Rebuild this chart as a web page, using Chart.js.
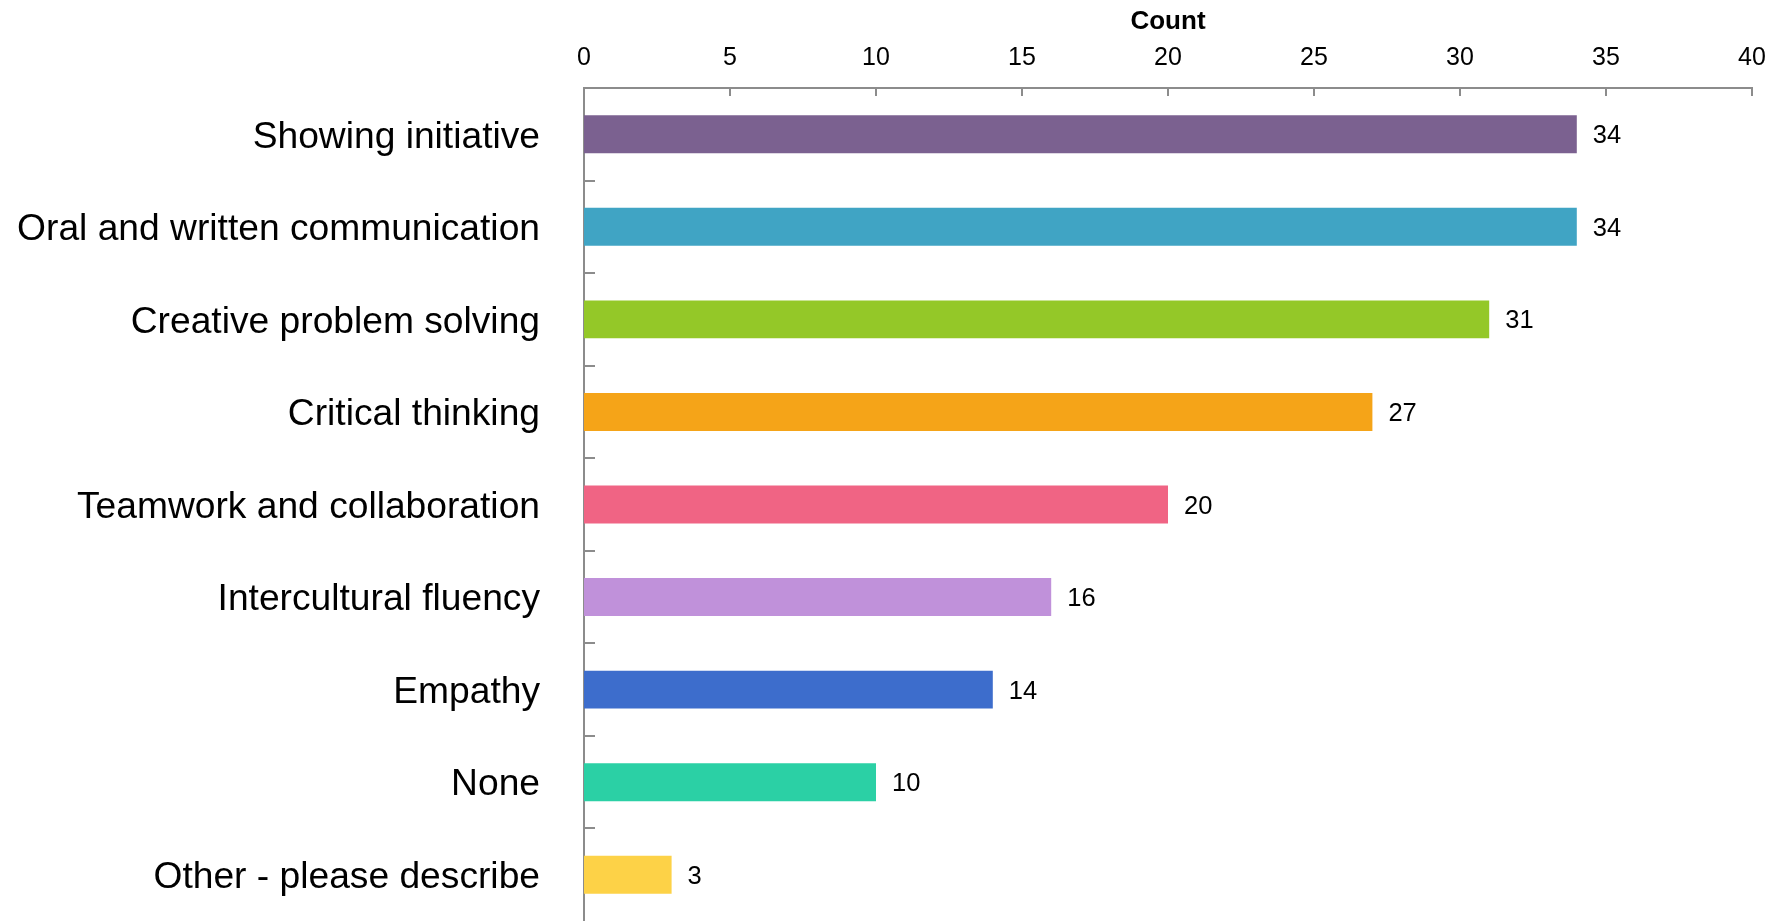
<!DOCTYPE html>
<html>
<head>
<meta charset="utf-8">
<script src="https://cdn.jsdelivr.net/npm/chart.js@4"></script>
<style>
  html, body { margin: 0; padding: 0; background: #fff; overflow: hidden; }
  canvas { display: block; }
</style>
</head>
<body>
<canvas id="chart" width="1772" height="921"></canvas>
<script>
// Skills bar chart

const categories = [
  'Showing initiative',
  'Oral and written communication',
  'Creative problem solving',
  'Critical thinking',
  'Teamwork and collaboration',
  'Intercultural fluency',
  'Empathy',
  'None',
  'Other - please describe',
];
const counts = [34, 34, 31, 27, 20, 16, 14, 10, 3];
const barColors = [
  '#7b6190', '#40a4c4', '#94c828', '#f5a418', '#f06484',
  '#c091da', '#3d6dcc', '#2bd0a5', '#fdd247',
];
const axisTicks = [0, 5, 10, 15, 20, 25, 30, 35, 40];

const FONT = 'Liberation Sans, Arial, sans-serif';
const AXIS_GREY = '#8c8c8c';

// keep the plot box fixed, whatever the labels would ask for
function noPadding(scale) {
  scale.paddingTop = 0;
  scale.paddingBottom = 0;
  scale.paddingLeft = 0;
  scale.paddingRight = 0;
}

// tick marks point into the plot, so draw them ourselves from the scales
const innerTicks = {
  id: 'innerTicks',
  afterDatasetsDraw(chart) {
    const { ctx, scales: { x, y }, chartArea } = chart;
    ctx.save();
    ctx.strokeStyle = AXIS_GREY;
    ctx.lineWidth = 2;
    ctx.beginPath();
    axisTicks.forEach((v) => {
      const px = Math.round(x.getPixelForValue(v));
      ctx.moveTo(px, chartArea.top);
      ctx.lineTo(px, chartArea.top + 8);
    });
    const band = y.getPixelForValue(1) - y.getPixelForValue(0);
    for (let i = 1; i < categories.length; i += 1) {
      const py = Math.round(y.getPixelForValue(i) - band / 2);
      ctx.moveTo(chartArea.left, py);
      ctx.lineTo(chartArea.left + 11, py);
    }
    ctx.stroke();

    // value labels at the end of each bar
    ctx.fillStyle = '#000';
    ctx.font = `25.5px ${FONT}`;
    ctx.textAlign = 'left';
    ctx.textBaseline = 'middle';
    chart.getDatasetMeta(0).data.forEach((bar, i) => {
      ctx.fillText(String(counts[i]), bar.x + 16, bar.y + 2);
    });
    ctx.restore();
  },
};

const ctx = document.getElementById('chart').getContext('2d');

// eslint-disable-next-line no-unused-vars
const chart = new Chart(ctx, {
  type: 'bar',
  data: {
    labels: categories,
    datasets: [{
      data: counts,
      backgroundColor: barColors,
      borderWidth: 0,
      categoryPercentage: 1,
      barPercentage: 0.41,
    }],
  },
  options: {
    indexAxis: 'y',
    responsive: false,
    animation: false,
    devicePixelRatio: 1,
    layout: { padding: { left: 0, right: 20, top: 0, bottom: 0 } },
    plugins: {
      legend: { display: false },
      tooltip: { enabled: false },
    },
    scales: {
      x: {
        position: 'top',
        min: 0,
        max: 40,
        afterBuildTicks(scale) {
          scale.ticks = axisTicks.map((v) => ({ value: v }));
        },
        afterFit(scale) {
          scale.height = 88;
          noPadding(scale);
        },
        grid: { display: false, drawTicks: false },
        border: { display: true, color: AXIS_GREY, width: 2 },
        ticks: {
          color: '#000',
          padding: 15,
          maxRotation: 0,
          font: { family: FONT, size: 25 },
        },
        title: {
          display: true,
          text: 'Count',
          color: '#000',
          padding: { top: 6, bottom: 0 },
          font: { family: FONT, size: 26, weight: 'bold' },
        },
      },
      y: {
        afterFit(scale) {
          scale.width = 584;
          noPadding(scale);
        },
        grid: { display: false, drawTicks: false },
        border: { display: true, color: AXIS_GREY, width: 2 },
        ticks: {
          color: '#000',
          padding: 44,
          labelOffset: 3,
          font: { family: FONT, size: 37.2 },
        },
      },
    },
  },
  plugins: [innerTicks],
});
</script>
</body>
</html>
